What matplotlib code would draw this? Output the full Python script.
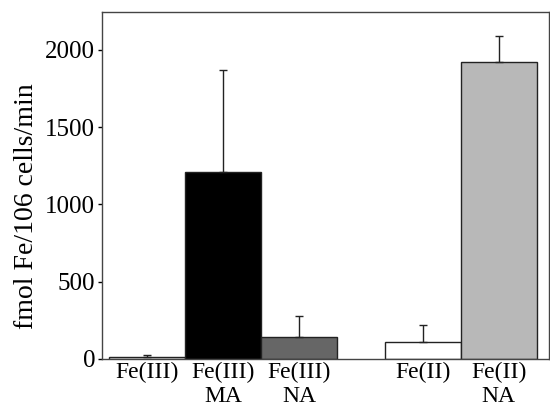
import matplotlib
matplotlib.use("Agg")
import matplotlib.pyplot as plt
import numpy as np

plt.rcParams['font.family'] = ['Liberation Serif', 'DejaVu Serif']

labels = ['Fe(III)', 'Fe(III)\nMA', 'Fe(III)\nNA', 'Fe(II)', 'Fe(II)\nNA']
values = [10, 1210, 142, 110, 1921]
errors = [15, 660, 136, 110, 168]
colors = ['white', 'black', '#666666', 'white', '#b8b8b8']
positions = [0, 1, 2, 3.63, 4.63]

fig = plt.figure(figsize=(5.5, 4.15), dpi=100)
ax = fig.add_axes([0.1855, 0.135, 0.8125, 0.836])

ax.bar(positions, values, width=1.0, color=colors, edgecolor='#222222', linewidth=1.0,
       yerr=[np.zeros(len(errors)), errors], capsize=3,
       error_kw=dict(ecolor='#222222', elinewidth=1.0, capthick=1.0))

ax.set_xlim(-0.59, 5.29)
ax.set_ylim(0, 2245)
ax.set_yticks([0, 500, 1000, 1500, 2000])
ax.set_xticks(positions)
ax.set_xticklabels(labels, fontsize=17, linespacing=1.2)
ax.tick_params(axis='x', length=0, pad=2)
ax.tick_params(axis='y', labelsize=18, length=3, width=1, direction='out', pad=2)
ax.set_ylabel('fmol Fe/106 cells/min', fontsize=20)
ax.yaxis.set_label_coords(-0.14, 0.44)
for s in ax.spines.values():
    s.set_color('#444444')
    s.set_linewidth(1.0)

plt.savefig('out.png', dpi=100)
